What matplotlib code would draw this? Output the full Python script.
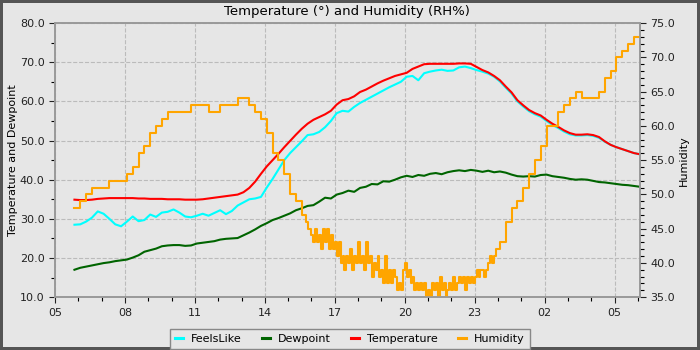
import numpy as np
import pandas as pd
import matplotlib
matplotlib.use("Agg")
import matplotlib.pyplot as plt
import matplotlib.dates as mdates
from matplotlib.ticker import MultipleLocator, FormatStrFormatter

# 15-minute readings, 05:50 through 06:05 the next morning
times = pd.date_range("2023-06-10 05:50", periods=98, freq="15min")

temperature = [
    34.9, 34.8, 34.8, 34.9, 35.1, 35.2, 35.3, 35.3, 35.3, 35.3,
    35.3, 35.2, 35.2, 35.1, 35.1, 35.1, 35.0, 35.0, 35.0, 34.9,
    34.9, 34.9, 35.0, 35.2, 35.4, 35.6, 35.8, 36.0, 36.2, 36.8,
    37.9, 39.5, 41.5, 43.4, 45.0, 46.6, 48.3, 49.9, 51.5, 53.0,
    54.3, 55.3, 56.0, 56.7, 57.6, 59.2, 60.3, 60.6, 61.3, 62.4,
    63.0, 63.8, 64.6, 65.3, 65.9, 66.5, 66.9, 67.3, 68.3, 68.9,
    69.5, 69.6, 69.6, 69.6, 69.6, 69.6, 69.7, 69.7, 69.6, 68.8,
    68.0, 67.4, 66.5, 65.4, 63.8, 62.3, 60.3, 59.0, 57.8, 57.0,
    56.4, 55.3, 54.3, 53.5, 52.6, 51.9, 51.5, 51.5, 51.6, 51.4,
    50.9, 49.8, 48.9, 48.3, 47.8, 47.3, 46.8, 46.5,
]

feels_like = [
    28.5, 28.6, 29.3, 30.3, 31.9, 31.3, 30.0, 28.6, 28.1, 29.3,
    30.6, 29.4, 29.7, 31.1, 30.5, 31.6, 31.8, 32.4, 31.6, 30.6,
    30.4, 30.8, 31.3, 30.8, 31.5, 32.2, 31.2, 32.0, 33.4, 34.2,
    35.0, 35.2, 35.6, 38.0, 40.2, 42.6, 45.0, 46.8, 48.3, 49.8,
    51.4, 51.6, 52.2, 53.4, 55.0, 57.0, 57.6, 57.4, 58.6, 59.6,
    60.4, 61.2, 62.0, 62.8, 63.6, 64.3, 65.0, 66.3, 66.5, 65.4,
    67.2, 67.6, 67.9, 68.1, 67.8, 67.9, 68.7, 68.9, 68.5, 68.0,
    67.6, 67.1, 66.3, 65.1, 63.5, 62.0, 60.0, 58.7, 57.5, 56.7,
    56.1, 55.0, 54.0, 53.2, 52.3, 51.6, 51.3, 51.3, 51.4, 51.2,
    50.7, 49.7, 48.9, 48.3, 47.8, 47.3, 46.8, 46.5,
]

dewpoint = [
    17.0, 17.5, 17.8, 18.1, 18.4, 18.7, 18.9, 19.2, 19.4, 19.6,
    20.1, 20.7, 21.6, 22.0, 22.4, 23.0, 23.2, 23.3, 23.3, 23.1,
    23.2, 23.7, 23.9, 24.1, 24.3, 24.7, 24.9, 25.0, 25.1, 25.8,
    26.5, 27.3, 28.2, 28.9, 29.7, 30.2, 30.8, 31.4, 32.2, 32.7,
    33.3, 33.5, 34.4, 35.4, 35.2, 36.2, 36.6, 37.2, 36.9, 37.9,
    38.2, 38.9, 38.8, 39.6, 39.5, 40.0, 40.6, 41.0, 40.7, 41.2,
    41.0, 41.5, 41.7, 41.4, 41.9, 42.2, 42.4, 42.2, 42.5, 42.3,
    42.0, 42.3, 41.9, 42.1, 41.8, 41.3, 40.9, 40.8, 40.9, 40.8,
    41.2, 41.3, 40.9, 40.7, 40.5, 40.2, 40.0, 40.1, 40.0, 39.7,
    39.4, 39.3, 39.1, 38.9, 38.7, 38.6, 38.4, 38.2,
]

# humidity is logged every 5 minutes through the evening, 15 minutes otherwise
hum_times = (
    pd.date_range("2023-06-10 05:50", "2023-06-10 15:35", freq="15min")
    .append(pd.date_range("2023-06-10 15:40", "2023-06-10 23:55", freq="5min"))
    .append(pd.date_range("2023-06-11 00:05", "2023-06-11 06:05", freq="15min"))
)

humidity = [
    # 05:50 - 15:35
    48, 49, 50, 51, 51, 51, 52, 52, 52, 53,
    54, 56, 57, 59, 60, 61, 62, 62, 62, 62,
    63, 63, 63, 62, 62, 63, 63, 63, 64, 64,
    63, 62, 61, 59, 56, 55, 53, 50, 49, 47,
    # 15:40 - 23:55
    47, 46, 45, 45, 44, 43, 45, 43, 44, 42,
    45, 43, 45, 42, 44, 42, 43, 41, 43, 40,
    41, 39, 41, 40, 42, 39, 41, 40, 43, 40,
    41, 39, 43, 40, 41, 38, 40, 39, 41, 38,
    39, 37, 41, 37, 39, 37, 39, 38, 36, 37,
    36, 39, 40, 38, 39, 37, 38, 36, 37, 36,
    37, 36, 37, 35, 36, 35, 37, 36, 37, 35,
    38, 36, 37, 35, 36, 37, 36, 38, 36, 37,
    38, 37, 38, 36, 38, 37, 38, 37, 38, 39,
    38, 39, 39, 38, 39, 40, 41, 40, 41, 42,
    # 00:05 - 06:05
    43, 46, 48, 49, 51, 53, 55, 57, 60, 60,
    62, 63, 64, 65, 64, 64, 64, 65, 67, 68,
    70, 71, 72, 73, 73,
]

bg = "#e6e6e6"
fig = plt.figure(figsize=(7, 3.5), dpi=100, facecolor=bg,
                 edgecolor="#555555", linewidth=4)
ax = fig.add_axes([0.0786, 0.151, 0.8354, 0.783])
ax.set_facecolor(bg)
ax2 = ax.twinx()

l1, = ax.plot(times, feels_like, color="#00ffff", lw=1.5, label="FeelsLike")
l2, = ax.plot(times, dewpoint, color="#006400", lw=1.5, label="Dewpoint")
l3, = ax.plot(times, temperature, color="#ff0000", lw=1.5, label="Temperature")
l4, = ax2.plot(hum_times, humidity, color="#ffa500", lw=1.5,
               drawstyle="steps-post", label="Humidity")

ax.set_xlim(pd.Timestamp("2023-06-10 05:00"), times[-1])
ax.set_ylim(10, 80)
ax2.set_ylim(35, 75)

ax.xaxis.set_major_locator(mdates.HourLocator(byhour=range(2, 24, 3)))
ax.xaxis.set_minor_locator(mdates.HourLocator())
ax.xaxis.set_major_formatter(mdates.DateFormatter("%H"))
ax.yaxis.set_major_locator(MultipleLocator(10))
ax.yaxis.set_minor_locator(MultipleLocator(5))
ax.yaxis.set_major_formatter(FormatStrFormatter("%.1f"))
ax2.yaxis.set_major_locator(MultipleLocator(5))
ax2.yaxis.set_minor_locator(MultipleLocator(1))
ax2.yaxis.set_major_formatter(FormatStrFormatter("%.1f"))

ax.grid(True, which="major", color="#bbbbbb", linestyle="--", linewidth=0.8)
for a in (ax, ax2):
    a.tick_params(labelsize=8, colors="#222222", length=4, width=0.8)
    a.tick_params(which="minor", length=3, width=0.8)
    for s in a.spines.values():
        s.set_color("#999999")
        s.set_linewidth(1.2)

ax.set_ylabel("Temperature and Dewpoint", fontsize=8, labelpad=1)
ax2.set_ylabel("Humidity", fontsize=8, labelpad=3)
ax.set_title("Temperature (°) and Humidity (RH%)", fontsize=9.5, pad=6)

leg = fig.legend(handles=[l1, l2, l3, l4], loc="lower center",
                 bbox_to_anchor=(0.5, -0.012), ncol=4, fontsize=8,
                 fancybox=False, facecolor=bg, edgecolor="#888888",
                 framealpha=1, handlelength=0.7, handletextpad=0.75,
                 columnspacing=1.8, borderpad=0.45)
for h in leg.legend_handles:
    h.set_linewidth(2.2)

fig.savefig("out.png", dpi=100, facecolor=bg, edgecolor="#555555")
